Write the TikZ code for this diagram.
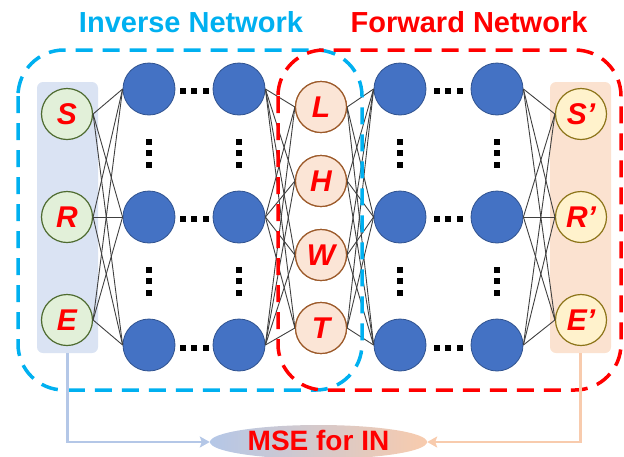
\documentclass[tikz,border=0pt]{standalone}
\usepackage{fontspec}
\setmainfont{Liberation Sans}
\usetikzlibrary{shapes.geometric,arrows.meta}

\definecolor{nblue}{HTML}{4472C4}
\definecolor{nblueline}{HTML}{2F528F}
\definecolor{ingreen}{HTML}{E2F0D9}
\definecolor{ingreenline}{HTML}{4E6B30}
\definecolor{midpeach}{HTML}{FBE5D6}
\definecolor{midline}{HTML}{9C5A2A}
\definecolor{outyellow}{HTML}{FFF2CC}
\definecolor{outline}{HTML}{8C7418}
\definecolor{boxblue}{HTML}{DAE3F3}
\definecolor{boxorange}{HTML}{FBE2D0}
\definecolor{invcyan}{HTML}{00B0F0}
\definecolor{fwdred}{HTML}{FF0000}
\definecolor{linkgray}{HTML}{404040}
\definecolor{arrblue}{HTML}{B4C7E7}
\definecolor{arrorange}{HTML}{F8CBAD}

\tikzset{
  neuron/.style={circle, draw=nblueline, fill=nblue, line width=0.8pt,
    minimum size=52pt, inner sep=0pt},
  io/.style={circle, line width=1.2pt, minimum size=51pt, inner sep=0pt,
    text=red, font=\bfseries\itshape\fontsize{30}{30}\selectfont},
  innode/.style={io, fill=ingreen, draw=ingreenline},
  midnode/.style={io, fill=midpeach, draw=midline},
  outnode/.style={io, fill=outyellow, draw=outline},
  link/.style={draw=linkgray, line width=0.9pt},
  frame/.style={line width=3.5pt, dash pattern=on 17pt off 10pt},
  title/.style={font=\bfseries\fontsize{29}{29}\selectfont},
  sidebox/.style={rounded corners=6pt, minimum width=61pt,
    minimum height=271pt, inner sep=0pt},
  feed/.style={line width=2.5pt, -{Stealth[length=10pt,width=11pt,inset=2pt]}},
  dotsq/.style={fill=black}
}

\begin{document}
\begin{tikzpicture}[x=1pt, y=-1pt]
\useasboundingbox (0,0) rectangle (624,456);

% titles
\node[title, text=invcyan] (tinv) at (191,22) {Inverse Network};
\node[title, text=fwdred] (tfwd) at (469,22) {Forward Network};

% shaded columns behind the input and output layers
\node[sidebox, fill=boxblue] (inbox) at (67.5,217.5) {};
\node[sidebox, fill=boxorange] (outbox) at (580.5,217.5) {};

% input layer
\foreach \n/\y/\t in {S/114/S, R/217/R, E/320/E}
  \node[innode] (in\n) at (67,\y) {\t};

% hidden layers
\foreach \c/\x in {1/149, 2/239, 3/400, 4/497}
  \foreach \r/\y in {a/89, b/217, c/345}
    \node[neuron] (h\c\r) at (\x,\y) {};

% latent layer
\foreach \n/\y in {L/107, H/181, W/255, T/328}
  \node[midnode] (m\n) at (321,\y) {\n};

% output layer
\foreach \n/\y/\t in {S/114/S’, R/217/R’, E/320/E’}
  \node[outnode] (out\n) at (581,\y) {\t};

% fully connected links
\foreach \a in {S,R,E}
  \foreach \b in {a,b,c}
    \draw[link] (in\a.east) -- (h1\b.west);
\foreach \a in {a,b,c}
  \foreach \b in {L,H,W,T}
    \draw[link] (h2\a.east) -- (m\b.west);
\foreach \a in {L,H,W,T}
  \foreach \b in {a,b,c}
    \draw[link] (m\a.east) -- (h3\b.west);
\foreach \a in {a,b,c}
  \foreach \b in {S,R,E}
    \draw[link] (h4\a.east) -- (out\b.west);

% network frames
\draw[frame, invcyan, rounded corners=46pt] (18,50) rectangle (362,390);
\draw[frame, fwdred, rounded corners=46pt] (278,50) rectangle (621,390);

% redraw latent nodes over the frames
\foreach \n/\y in {L/107, H/181, W/255, T/328}
  \node[midnode] at (321,\y) {\n};

% horizontal ellipses between hidden columns
\foreach \cx in {194, 448}
  \foreach \y in {91, 219, 348}
    \foreach \d in {-11.5, 0, 11.5}
      \fill[dotsq] (\cx+\d-3,\y-3) rectangle ++(6,6);

% vertical ellipses within hidden columns
\foreach \x in {149, 239, 400, 497}
  \foreach \cy in {153, 281}
    \foreach \d in {-11.5, 0, 11.5}
      \fill[dotsq] (\x-3,\cy+\d-3) rectangle ++(6,6);

% loss node
\node[ellipse, minimum width=217pt, minimum height=34pt, inner sep=0pt,
  left color=arrblue, right color=arrorange] (mse) at (318.5,442) {};
\node[anchor=base, text=red, inner sep=0pt,
  font=\bfseries\fontsize{28}{28}\selectfont] (msetext) at (318.5,450.5) {MSE for IN};

% feeds into the loss
\draw[feed, arrblue] (inbox.south) |- (mse.west);
\draw[feed, arrorange] (outbox.south) |- (mse.east);
\end{tikzpicture}
\end{document}
